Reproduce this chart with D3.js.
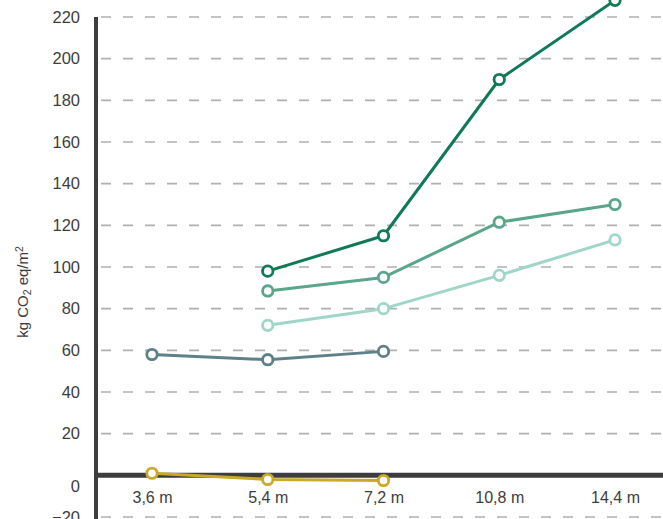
<!DOCTYPE html>
<html>
<head>
<meta charset="utf-8">
<script src="https://cdn.jsdelivr.net/npm/d3@7"></script>
<style>
  html, body { margin: 0; padding: 0; background: #fff; }
  svg { display: block; }
  text { font-family: "Liberation Sans", Arial, sans-serif; }
</style>
</head>
<body>
<svg id="chart" width="663" height="519"></svg>
<script>
// Span categories along the x axis
const categories = ["3,6 m", "5,4 m", "7,2 m", "10,8 m", "14,4 m"];

// Embodied carbon per span (kg CO2 eq/m²); null where a system has no value
const seriesDark   = [null, 98, 115, 190, 228];
const seriesMid    = [null, 88.5, 95, 121.5, 130];
const seriesLight  = [null, 72, 80, 96, 113];
const seriesSlate  = [58, 55.5, 59.5, null, null];
const seriesGold   = [1, -2, -2.5, null, null];

const yTicks = [-20, 0, 20, 40, 60, 80, 100, 120, 140, 160, 180, 200, 220];

const series = [
  { values: seriesLight, color: "#9fd6c8" },
  { values: seriesMid,   color: "#5aa68a" },
  { values: seriesDark,  color: "#0f7a53" },
  { values: seriesSlate, color: "#5e8088" },
  { values: seriesGold,  color: "#c9a82a" }
];

const svg = d3.select("#chart");

const axisX = 96;
const x = d3.scalePoint().domain(categories).range([152, 615]);
const y = d3.scaleLinear().domain([-20, 220]).range([517, 17]);

// Dashed horizontal grid
svg.append("g")
  .selectAll("line")
  .data(yTicks.filter(t => t !== 0))
  .join("line")
  .attr("x1", axisX + 2)
  .attr("x2", 663)
  .attr("y1", d => y(d))
  .attr("y2", d => y(d))
  .attr("stroke", "#b0b0b0")
  .attr("stroke-width", 1.6)
  .attr("stroke-dasharray", "10 12")
  .attr("stroke-dashoffset", -3);

// Y tick labels
const yAxis = d3.axisLeft(y).tickValues(yTicks).tickSize(0).tickPadding(0);
const gy = svg.append("g").attr("transform", `translate(80,0)`).call(yAxis);
gy.select(".domain").remove();
gy.selectAll("text")
  .attr("font-size", 16.5)
  .attr("fill", "#3d3d3d")
  .attr("dy", d => d === 0 ? "0.98em" : "0.32em");

// Axis lines
svg.append("line")
  .attr("x1", axisX).attr("x2", axisX)
  .attr("y1", y(220)).attr("y2", 519)
  .attr("stroke", "#3d3d3d").attr("stroke-width", 4);
svg.append("line")
  .attr("x1", axisX - 2).attr("x2", 663)
  .attr("y1", y(0)).attr("y2", y(0))
  .attr("stroke", "#3d3d3d").attr("stroke-width", 5);

// X category labels
const xAxis = d3.axisBottom(x).tickSize(0).tickPadding(0);
const gx = svg.append("g").attr("transform", `translate(0,${y(0) + 16.5})`).call(xAxis);
gx.select(".domain").remove();
gx.selectAll("text")
  .attr("font-size", 16)
  .attr("fill", "#3d3d3d")
  .attr("dy", "0.71em");

// Y axis title
const title = svg.append("text")
  .attr("transform", "translate(28,292) rotate(-90)")
  .attr("text-anchor", "middle")
  .attr("font-size", 15)
  .attr("fill", "#3d3d3d");
title.append("tspan").text("kg CO");
title.append("tspan").attr("font-size", 10.5).attr("dy", 3).text("2");
title.append("tspan").attr("dy", -3).text(" eq/m");
title.append("tspan").attr("font-size", 10.5).attr("dy", -5).text("2");

// Lines and markers
const line = d3.line()
  .defined(d => d.v !== null)
  .x(d => x(d.c))
  .y(d => y(d.v));

series.forEach(s => {
  const pts = categories.map((c, i) => ({ c, v: s.values[i] }));
  const g = svg.append("g");
  g.append("path")
    .datum(pts)
    .attr("d", line)
    .attr("fill", "none")
    .attr("stroke", s.color)
    .attr("stroke-width", 3)
    .attr("stroke-linejoin", "round");
  g.selectAll("circle")
    .data(pts.filter(d => d.v !== null))
    .join("circle")
    .attr("cx", d => x(d.c))
    .attr("cy", d => y(d.v))
    .attr("r", 5.2)
    .attr("fill", "#fff")
    .attr("stroke", s.color)
    .attr("stroke-width", 2.8);
});
</script>
</body>
</html>
